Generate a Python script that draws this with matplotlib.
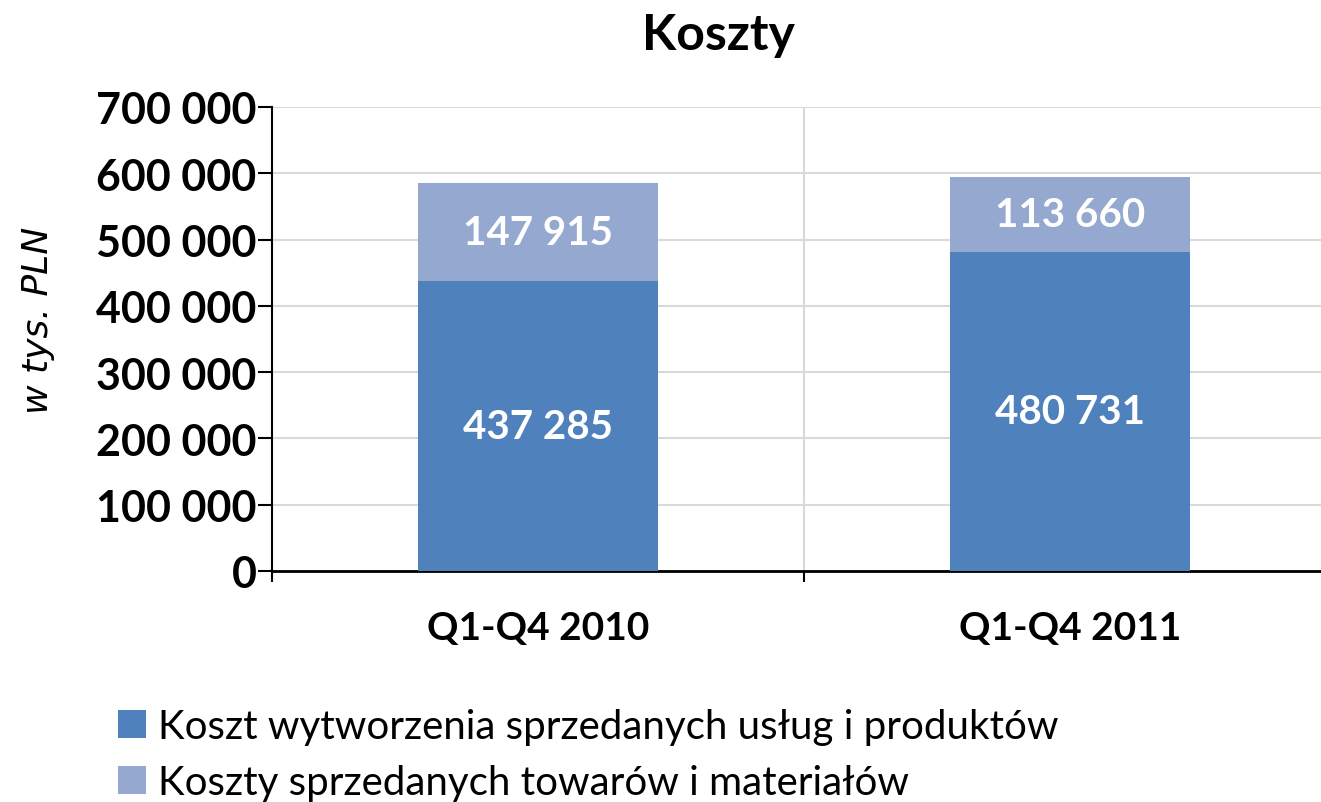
import numpy as np
import matplotlib
matplotlib.use('Agg')
import matplotlib.pyplot as plt
from matplotlib.ticker import FuncFormatter

plt.rcParams['font.family'] = ['Lato', 'DejaVu Sans']

categories = ['Q1-Q4 2010', 'Q1-Q4 2011']
koszt_wytworzenia = [437285, 480731]
koszt_towarow = [147915, 113660]
series_names = ['Koszt wytworzenia sprzedanych usług i produktów',
                'Koszty sprzedanych towarów i materiałów']
yticks = np.arange(0, 700001, 100000)

c_dark = '#4F81BD'
c_light = '#95A9D0'

fig = plt.figure(figsize=(13.21, 8.03), dpi=100)
ax = fig.add_axes([272/1321, 1-572/803, (1336-272)/1321, (572-108)/803])

x = np.arange(len(categories))
b1 = ax.bar(x, koszt_wytworzenia, width=0.45, color=c_dark, zorder=3, label=series_names[0])
b2 = ax.bar(x, koszt_towarow, width=0.45, bottom=koszt_wytworzenia, color=c_light, zorder=3,
            label=series_names[1])

def fmt(v):
    return f'{int(v):,}'.replace(',', ' ')

for xi, v1, v2 in zip(x, koszt_wytworzenia, koszt_towarow):
    ax.text(xi, v1 / 2, fmt(v1), ha='center', va='center', color='white',
            fontsize=29, fontweight='bold', zorder=4)
    ax.text(xi, v1 + v2 / 2, fmt(v2), ha='center', va='center', color='white',
            fontsize=29, fontweight='bold', zorder=4)

ax.set_xlim(-0.5, 1.5)
ax.set_ylim(0, 700000)
ax.set_yticks(yticks)
ax.yaxis.set_major_formatter(FuncFormatter(lambda v, p: fmt(v)))
ax.set_xticks([-0.5, 0.5, 1.5])
ax.set_xticklabels([])
ax.set_xticks(x, minor=True)
ax.set_xticklabels(categories, minor=True)
ax.tick_params(axis='x', which='minor', length=0, pad=28, labelsize=28)
ax.tick_params(axis='x', which='major', length=8, width=1.5, direction='out')
ax.tick_params(axis='y', length=10, width=1.5, direction='out', pad=1, labelsize=31)
for lab in ax.get_yticklabels() + ax.get_xticklabels(minor=True):
    lab.set_fontweight('bold')

ax.grid(axis='y', color='#d9d9d9', linewidth=1.5, zorder=0)
ax.axvline(0.5, color='#d9d9d9', linewidth=1.5, zorder=0)
for s in ['top', 'right']:
    ax.spines[s].set_visible(False)
ax.spines['left'].set_linewidth(1.5)
ax.spines['bottom'].set_linewidth(2)

fig.text(718/1321, 1-35/803, 'Koszty', ha='center', va='center', fontsize=36, fontweight='bold')
fig.text(38/1321, 1-320/803, 'w tys. PLN', rotation=90, ha='center', va='center',
         fontsize=26, style='italic', family='DejaVu Sans')

fig.legend(handles=[b1, b2], labels=series_names, loc='upper left',
           bbox_to_anchor=(118/1321, 1-709/803), frameon=False, fontsize=29,
           handlelength=0.7, handleheight=0.7, handletextpad=0.3, labelspacing=0.48,
           borderaxespad=0, borderpad=0)

fig.savefig('out.png', dpi=100)
